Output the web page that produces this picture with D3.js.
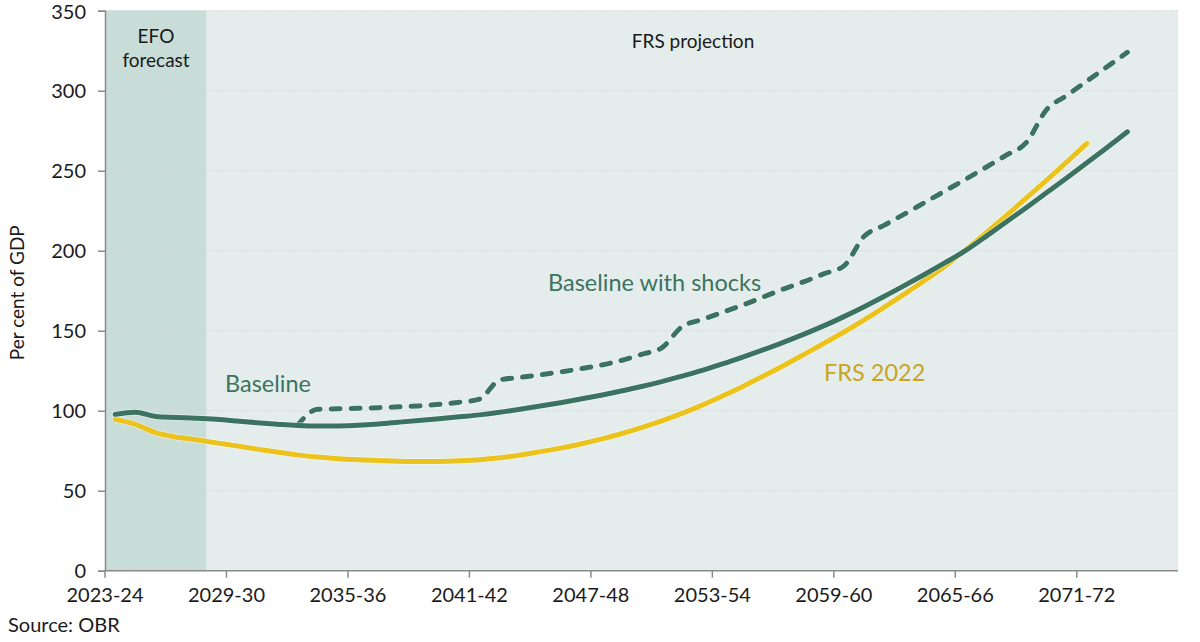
<!DOCTYPE html>
<html>
<head>
<meta charset="utf-8">
<script src="https://cdn.jsdelivr.net/npm/d3@7"></script>
<style>
  html, body { margin: 0; padding: 0; background: #fff; }
  svg { display: block; font-family: Lato, "Noto Sans", sans-serif; }
</style>
</head>
<body>
<svg id="chart" width="1200" height="642"></svg>
<script>
// ---- data ----
const years = [];
for (let yr = 2023; yr <= 2075; yr++) years.push(yr + "-" + String((yr + 1) % 100).padStart(2, "0"));

const tickLabels = ["2023-24","2029-30","2035-36","2041-42","2047-48","2053-54","2059-60","2065-66","2071-72"];
const yTicks = [0, 50, 100, 150, 200, 250, 300, 350];
const efoYears = ["2023-24","2024-25","2025-26","2026-27","2027-28"];

// Baseline (2023-24 .. 2073-74)
const baseline = [97.7, 99.0, 96.4, 95.8, 95.3, 94.6, 93.6, 92.5, 91.6, 90.8,
  90.4, 90.5, 90.9, 91.7, 92.8, 93.9, 95.0, 96.2, 97.4, 99.0,
  100.9, 102.9, 105.0, 107.3, 109.7, 112.3, 115.1, 118.2, 121.6, 125.2,
  129.2, 133.5, 138.0, 142.7, 147.7, 153.0, 158.8, 165.0, 171.5, 178.3,
  185.3, 192.5, 200.0, 208.8, 217.8, 226.9, 236.2, 245.5, 254.9, 264.5, 274.3];

// Baseline with shocks (2032-33 .. 2073-74)
const shocksStart = 9;
const shocks = [90.8, 100.9, 101.2, 101.5, 101.9, 102.4, 103.0, 104.0, 105.3, 107.3,
  119.2, 120.8, 122.4, 124.2, 126.2, 128.5, 131.4, 135.2, 139.3, 152.5,
  157.0, 161.5, 166.0, 171.0, 176.0, 180.5, 185.5, 190.5, 209.0, 216.0,
  223.0, 230.2, 237.4, 244.6, 252.0, 259.6, 267.5, 288.0, 297.0, 306.0,
  315.0, 324.0];

// FRS 2022 (2023-24 .. 2071-72)
const frs2022 = [94.6, 91.5, 86.3, 83.6, 81.8, 79.9, 78.0, 76.0, 74.2, 72.4,
  71.0, 70.0, 69.3, 68.8, 68.4, 68.2, 68.3, 68.7, 69.4, 70.6,
  72.3, 74.4, 76.6, 79.2, 82.2, 85.6, 89.4, 93.6, 98.3, 103.5,
  109.2, 115.2, 121.5, 128.1, 135.0, 142.0, 149.2, 156.8, 164.8, 173.0,
  181.5, 190.5, 200.5, 211.0, 221.8, 232.8, 244.0, 255.4, 267.0];

// ---- layout ----
const svg = d3.select("#chart");
const mLeft = 105, mRight = 1178, mTop = 10.7, mBottom = 570.7;

const x = d3.scaleBand().domain(years).range([mLeft, mRight]).padding(0);
const y = d3.scaleLinear().domain([0, 350]).range([mBottom, mTop]);
const cx = d => x(d) + x.bandwidth() / 2;

const green = "#3b7360";
const yellow = "#ebc31c";

// plot background
svg.append("rect").attr("x", mLeft).attr("y", mTop)
  .attr("width", mRight - mLeft).attr("height", mBottom - mTop)
  .attr("fill", "#e4edec");

// EFO shading
svg.append("rect")
  .attr("x", x(efoYears[0])).attr("y", mTop)
  .attr("width", x(efoYears[efoYears.length - 1]) + x.bandwidth() - x(efoYears[0]))
  .attr("height", mBottom - mTop)
  .attr("fill", "#c8dcd8");

// gridlines
svg.append("g").selectAll("line").data(yTicks.filter(d => d > 0)).join("line")
  .attr("x1", mLeft).attr("x2", mRight)
  .attr("y1", d => y(d)).attr("y2", d => y(d))
  .attr("stroke", "#d3dcda").attr("stroke-width", 1)
  .attr("stroke-dasharray", "2,1");

// y axis
const yAxis = d3.axisLeft(y).tickValues(yTicks).tickSize(7).tickPadding(12);
const gy = svg.append("g").attr("transform", `translate(${mLeft},0)`).call(yAxis);
gy.select(".domain").attr("stroke", "#8a8a8a").attr("stroke-width", 1.5);
gy.selectAll(".tick line").attr("stroke", "#8a8a8a").attr("stroke-width", 1.5);
gy.selectAll(".tick text").attr("font-size", 20).attr("fill", "#1a1a1a")
  .attr("font-family", "Lato, sans-serif");
gy.selectAll(".tick text").filter(d => d === 350).attr("dy", "0.40em");

// x axis
const xAxis = d3.axisBottom(x).tickValues(tickLabels).tickSize(7).tickPadding(10).tickSizeOuter(0);
const gx = svg.append("g").attr("transform", `translate(0,${mBottom})`).call(xAxis);
gx.select(".domain").attr("stroke", "#8a8a8a").attr("stroke-width", 1.5)
  .attr("d", `M${mLeft},0H${mRight}`);
gx.selectAll(".tick").attr("transform", d => `translate(${x(d)},0)`);
gx.selectAll(".tick line").attr("stroke", "#8a8a8a").attr("stroke-width", 1.5);
gx.selectAll(".tick text").attr("font-size", 20).attr("fill", "#1a1a1a")
  .attr("font-family", "Lato, sans-serif");

// lines
const line = d3.line().x(d => cx(d.k)).y(d => y(d.v)).curve(d3.curveMonotoneX);
const toPts = (arr, start) => arr.map((v, i) => ({ k: years[start + i], v }));

const drawLine = (arr, start, color, dash) => {
  svg.append("path").datum(toPts(arr, start))
    .attr("d", line).attr("fill", "none")
    .attr("stroke", "#ffffff").attr("stroke-opacity", 0.5)
    .attr("stroke-width", 6.5).attr("stroke-linecap", "round").attr("stroke-linejoin", "round")
    .attr("stroke-dasharray", dash || null);
  svg.append("path").datum(toPts(arr, start))
    .attr("d", line).attr("fill", "none")
    .attr("stroke", color).attr("stroke-width", 5)
    .attr("stroke-linecap", "round").attr("stroke-linejoin", "round")
    .attr("stroke-dasharray", dash || null);
};

drawLine(shocks, shocksStart, green, "9,11");
drawLine(frs2022, 0, yellow);
drawLine(baseline, 0, green);

// text annotations
const txt = (s, xx, yy, size, color, anchor) => svg.append("text")
  .attr("x", xx).attr("y", yy).attr("font-size", size).attr("fill", color)
  .attr("text-anchor", anchor || "start").text(s);

txt("EFO", 156, 43, 19, "#1a1a1a", "middle");
txt("forecast", 156, 67, 19, "#1a1a1a", "middle");
txt("FRS projection", 693, 48, 19, "#1a1a1a", "middle");
txt("Baseline with shocks", 548, 291, 23.5, "#3b7360");
txt("Baseline", 225, 392, 23.5, "#3b7360");
txt("FRS 2022", 824, 381, 23.5, "#c9a41f");

// y axis title
svg.append("text")
  .attr("transform", `translate(24,${(mTop + mBottom) / 2 + 2}) rotate(-90)`)
  .attr("text-anchor", "middle").attr("font-size", 19).attr("fill", "#1a1a1a")
  .text("Per cent of GDP");

// source
txt("Source: OBR", 8, 632, 20, "#1a1a1a");
</script>
</body>
</html>
